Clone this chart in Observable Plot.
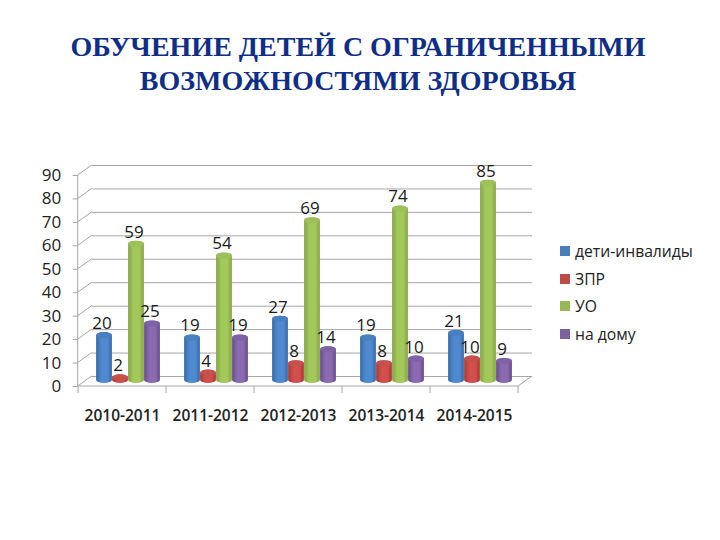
<!DOCTYPE html>
<html><head><meta charset="utf-8">
<script src="https://cdn.jsdelivr.net/npm/d3@7"></script>
<script src="https://cdn.jsdelivr.net/npm/@observablehq/plot@0.6"></script>
<style>
html,body{margin:0;padding:0;background:#fff;width:720px;height:540px;overflow:hidden;position:relative}
#title{position:absolute;left:0;top:30px;width:716px;text-align:center;font:bold 28px/33.5px "Liberation Serif",serif;color:#0f2f87;white-space:nowrap}
#chart{position:absolute;left:0;top:110px}
#legend{position:absolute;left:560px;top:237px;font:15.7px "Open Sans",sans-serif;color:#222}
#legend div{height:27.7px;display:flex;align-items:center;white-space:nowrap}
#legend i{display:inline-block;width:10px;height:10px;margin-right:5px}
</style></head><body>
<div id="title">ОБУЧЕНИЕ ДЕТЕЙ С ОГРАНИЧЕННЫМИ<br>ВОЗМОЖНОСТЯМИ ЗДОРОВЬЯ</div>
<div id="chart"></div>
<div id="legend"></div>
<script>
const years = ["2010-2011","2011-2012","2012-2013","2013-2014","2014-2015"];
const names = ["дети-инвалиды","ЗПР","УО","на дому"];
const invalid = [20,19,27,19,21];
const zpr = [2,4,8,8,10];
const uo = [59,54,69,74,85];
const home = [25,19,14,10,9];
const yTicks = [0,10,20,30,40,50,60,70,80,90];

const seriesValues = [invalid,zpr,uo,home];
const palette = [
  {id:"cb",edge:"#386ba6",mid:"#4f8ad0",cap:"#4a7fc0"},
  {id:"cr",edge:"#a93a36",mid:"#d0504c",cap:"#c8504c"},
  {id:"cg",edge:"#86a546",mid:"#a3c95c",cap:"#9dc05a"},
  {id:"cp",edge:"#684c8b",mid:"#8a6bb0",cap:"#7f62a6"}
];
const legendColors = ["#4a7ebb","#be4b48","#98b954","#7d60a0"];
const depthX = 14, depthY = -10;
const slot = [-18,-2,14,30];  // horizontal place of each cylinder within a year group
const barW = 16, capR = 3;
const grid = "#a6a6a6";

const defs = () => {
  const g = document.createElementNS("http://www.w3.org/2000/svg","defs");
  g.innerHTML = palette.map(p=>`<linearGradient id="${p.id}" x1="0" x2="1" y1="0" y2="0">
    <stop offset="0" stop-color="${p.edge}"/><stop offset=".35" stop-color="${p.mid}"/>
    <stop offset=".7" stop-color="${p.mid}"/><stop offset="1" stop-color="${p.edge}"/></linearGradient>`).join("");
  return g;
};

// front axis, wall diagonals and group ticks of the 3-D box
const box = (index, {x,y}, values, {width,marginLeft,marginRight}) => {
  const g = d3.create("svg:g").attr("stroke",grid).attr("fill","none");
  const x0 = marginLeft, x1 = width-marginRight;
  const line = (a,b,c,d)=>g.append("line").attr("x1",a).attr("y1",b).attr("x2",c).attr("y2",d);
  yTicks.forEach(v=>line(x0,y(v),x0+depthX,y(v)+depthY));
  line(x0,y(0),x0,y(90));
  line(x0,y(0),x1,y(0));
  line(x1,y(0),x1+depthX,y(0)+depthY);
  years.forEach(t=>line(x(t),y(0),x(t),y(0)+7));
  line(x1,y(0),x1,y(0)+7);
  return g.node();
};

const rows = seriesValues.map(vals => years.map((year,i)=>({year,value:vals[i]})));

const marks = [
  defs,
  Plot.ruleY(yTicks,{stroke:grid,dx:depthX,dy:depthY}),
  box,
  Plot.axisY({ticks:yTicks,tickSize:5,tickPadding:12,fontSize:17,stroke:grid,color:"#222",label:null,tickFormat:d=>d}),
  Plot.axisX({tickSize:0,tickPadding:23,fontSize:15.5,fontWeight:600,color:"#222",label:null,fontFamily:"Open Sans"})
];
rows.forEach((data,s)=>{
  const inset=(88.2-barW)/2;
  marks.push(
    Plot.barY(data,{x:"year",y1:0,y2:"value",dx:slot[s],dy:-4,fill:`url(#${palette[s].id})`,
      insetLeft:inset,insetRight:inset,insetTop:-capR,insetBottom:-1,rx:barW/2,ry:capR}),
    Plot.barY(data,{x:"year",y1:"value",y2:"value",dx:slot[s],dy:-4,fill:palette[s].cap,
      insetLeft:inset,insetRight:inset,insetTop:-capR,insetBottom:-capR,rx:barW/2,ry:capR}),
    Plot.text(data,{x:"year",y:"value",text:"value",dx:slot[s]-2.5,dy:-16,fontSize:17,fill:"#1a1a1a"})
  );
});

const chart = Plot.plot({
  width:720,height:330,
  marginLeft:77.7,marginRight:202,marginTop:65,marginBottom:54,
  style:{fontFamily:"Open Sans",background:"transparent"},
  x:{domain:years,padding:0,label:null},
  y:{domain:[0,90],label:null},
  marks
});
document.getElementById("chart").append(chart);
document.getElementById("legend").innerHTML = names.map((n,i)=>`<div><i style="background:${legendColors[i]}"></i>${n}</div>`).join("");
</script>
</body></html>
